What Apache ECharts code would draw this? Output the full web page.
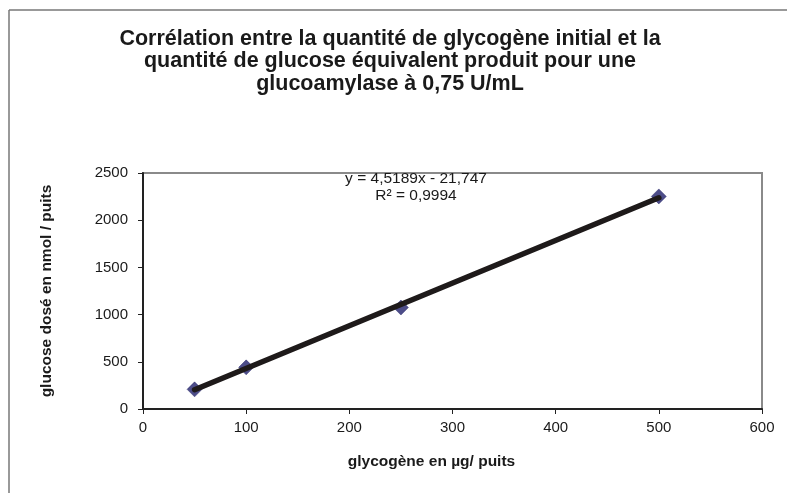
<!DOCTYPE html>
<html>
<head>
<meta charset="utf-8">
<script src="https://cdn.jsdelivr.net/npm/echarts@6/dist/echarts.min.js"></script>
<style>
  html, body { margin: 0; padding: 0; background: #fff; }
  #chart { width: 787px; height: 493px; }
</style>
</head>
<body>
<div id="chart"></div>
<script>
// Measured glycogen amounts (µg / well) and the glucose assayed (nmol / well)
const glycogen = [50, 100, 250, 500];
const glucose = [208, 441, 1075, 2252];

// Linear fit reported on the chart
const slope = 4.5189;
const intercept = -21.747;
const equationText = 'y = 4,5189x - 21,747';
const r2Text = 'R² = 0,9994';

const xTicks = [0, 100, 200, 300, 400, 500, 600];
const yTicks = [0, 500, 1000, 1500, 2000, 2500];

const titleText = 'Corrélation entre la quantité de glycogène initial et la\nquantité de glucose équivalent produit pour une\nglucoamylase à 0,75 U/mL';
const xName = 'glycogène en µg/ puits';
const yName = 'glucose dosé en nmol / puits';

const points = glycogen.map((x, i) => [x, glucose[i]]);
const fitX = [glycogen[0], glycogen[glycogen.length - 1]];
const fitLine = fitX.map(x => [x, slope * x + intercept]);

const FONT = '"Liberation Sans", Arial, sans-serif';

const chart = echarts.init(document.getElementById('chart'), null, { renderer: 'canvas' });
chart.setOption({
  backgroundColor: '#ffffff',
  animation: false,
  title: {
    text: titleText,
    left: 385,
    top: 23,
    textAlign: 'center',
    textStyle: {
      fontFamily: FONT,
      fontWeight: 'bold',
      fontSize: 21.5,
      lineHeight: 22.3,
      color: '#1a1a1a'
    }
  },
  graphic: [
    { type: 'line', z: 0, shape: { x1: 9, y1: 10, x2: 787, y2: 10 }, style: { stroke: '#777', lineWidth: 1.5 } },
    { type: 'line', z: 0, shape: { x1: 9, y1: 10, x2: 9, y2: 493 }, style: { stroke: '#777', lineWidth: 1.5 } },
    {
      type: 'text', z: 100, style: {
        text: equationText + '\n' + r2Text,
        x: 416, y: 170, align: 'center', verticalAlign: 'top',
        font: '15.5px ' + FONT,
        lineHeight: 17, fill: '#1a1a1a'
      }
    }
  ],
  grid: {
    left: 143, right: 25, top: 173, bottom: 84,
    show: true, borderColor: '#8a8a8a', borderWidth: 2, backgroundColor: '#fff'
  },
  xAxis: {
    type: 'value', min: 0, max: 600, interval: 100,
    name: xName, nameLocation: 'middle', nameGap: 45,
    nameTextStyle: { fontFamily: FONT, fontWeight: 'bold', fontSize: 15.5, color: '#1a1a1a', padding: [0, 42, 0, 0] },
    axisLine: { show: true, lineStyle: { color: '#222', width: 2 } },
    axisTick: { show: true, length: 5, lineStyle: { color: '#222', width: 1 } },
    axisLabel: { fontFamily: FONT, fontSize: 15, color: '#1a1a1a', margin: 11,
      formatter: v => xTicks.includes(v) ? String(v) : '' },
    splitLine: { show: false }
  },
  yAxis: {
    type: 'value', min: 0, max: 2500, interval: 500,
    name: yName, nameLocation: 'middle', nameGap: 88, nameRotate: 90,
    nameTextStyle: { fontFamily: FONT, fontWeight: 'bold', fontSize: 15.5, color: '#1a1a1a' },
    axisLine: { show: true, lineStyle: { color: '#222', width: 2 } },
    axisTick: { show: true, length: 5, lineStyle: { color: '#222', width: 1 } },
    axisLabel: { fontFamily: FONT, fontSize: 15, color: '#1a1a1a', margin: 15,
      formatter: v => yTicks.includes(v) ? String(v) : '' },
    splitLine: { show: false }
  },
  series: [
    {
      type: 'scatter',
      data: points,
      symbol: 'diamond',
      symbolSize: [15, 15],
      itemStyle: { color: '#20206c', borderColor: '#1a1a5e', borderWidth: 0.5 },
      z: 2
    },
    {
      type: 'line',
      data: fitLine,
      symbol: 'none',
      lineStyle: { color: '#1e1a1a', width: 5.5, cap: 'round' },
      z: 3
    }
  ]
});
</script>
</body>
</html>
